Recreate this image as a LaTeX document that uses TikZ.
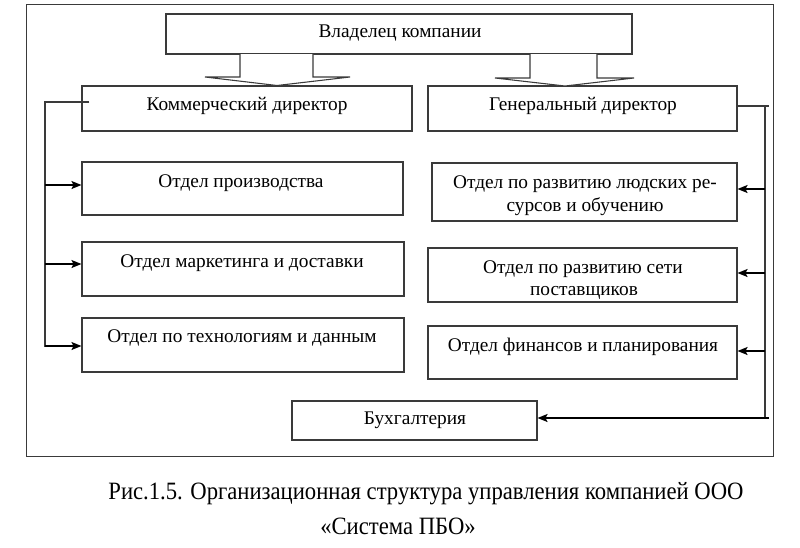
\documentclass[tikz,border=0pt]{standalone}
\usepackage{fontspec}
\setmainfont{Liberation Serif}
\newfontfamily\dfont{Liberation Serif}
\usetikzlibrary{arrows.meta,fit}
\definecolor{linec}{HTML}{3A3A3A}
\tikzset{
  box/.style={draw=linec, line width=0.8pt, inner sep=0pt},
  txt/.style={font=\dfont\fontsize{14.5}{17}\selectfont, inner sep=0pt, anchor=base},
  captxt/.style={font=\dfont\fontsize{17}{20}\selectfont, inner sep=0pt, anchor=base, yscale=1.1},
  bus/.style={draw=linec, line width=0.8pt},
  arr/.style={draw=black, line width=1.2pt, -{Stealth[length=7.5pt,width=6pt,inset=1.5pt]}},
  blk/.style={draw=linec, line width=0.8pt, fill=white, line join=miter},
}
\begin{document}
\begin{tikzpicture}[x=0.75pt,y=-0.75pt]
\useasboundingbox (0,0) rectangle (800,547);
% outer frame
\node[box, fit={(26.5,4.5) (773.5,456.5)}] (frame) {};
% boxes
\node[box, fit={(166,14) (632,54)}] (own) {};
\node[box, fit={(82,86) (412,131)}] (cd) {};
\node[box, fit={(428,86) (737,131)}] (gd) {};
\node[box, fit={(82,162) (403,215)}] (l1) {};
\node[box, fit={(82,242) (404,296)}] (l2) {};
\node[box, fit={(82,318) (404,372)}] (l3) {};
\node[box, fit={(432,163) (737,221)}] (r1) {};
\node[box, fit={(428,248) (737,302)}] (r2) {};
\node[box, fit={(428,326) (737,379)}] (r3) {};
\node[box, fit={(292,401) (537,440)}] (acc) {};
% block arrows
\draw[blk] (240,54) -- (240,77) -- (205,77) -- (277,85.5) -- (350,77) -- (313,77) -- (313,54);
\draw[blk] (530,54) -- (530,78) -- (495,78) -- (565,86) -- (634,78) -- (597,78) -- (597,54);
% texts
\node[txt] (townr) at (400,37) {Владелец компании};
\node[txt] (tcd) at (247,110) {Коммерческий директор};
\node[txt] (tgd) at (583,110) {Генеральный директор};
\node[txt] (tl1) at (241,187) {Отдел производства};
\node[txt] (tl2) at (242,267) {Отдел маркетинга и доставки};
\node[txt] (tl3) at (242,342) {Отдел по технологиям и данным};
\node[txt] (tr1a) at (585,188) {Отдел по развитию людских ре-};
\node[txt] (tr1b) at (585,211) {сурсов и обучению};
\node[txt] (tr2a) at (583,273) {Отдел по развитию сети};
\node[txt] (tr2b) at (584,295) {поставщиков};
\node[txt] (tr3) at (583,351) {Отдел финансов и планирования};
\node[txt] (tacc) at (415,424) {Бухгалтерия};
\node[captxt] (cap1) at (426,499) {Рис.1.5. Организационная структура управления компанией ООО};
\node[captxt] (cap2) at (398,534) {«Система ПБО»};
% left bus
\coordinate (lt) at (45,102);
\coordinate (lb) at (45,347);
\coordinate (la1) at (45,185);
\coordinate (la2) at (45,264);
\coordinate (la3) at (45,346);
\draw[bus] ([xshift=6]cd.west |- lt) -- (lt) -- (lb);
\draw[arr] (la1) -- (la1 -| l1.west);
\draw[arr] (la2) -- (la2 -| l2.west);
\draw[arr] (la3) -- (la3 -| l3.west);
% right bus
\coordinate (rt) at (765,106);
\coordinate (rb) at (765,418);
\coordinate (ra1) at (765,189);
\coordinate (ra2) at (765,273);
\coordinate (ra3) at (765,351);
\draw[bus] (gd.east |- rt) -- ([xshift=3]rt) (rt) -- (rb);
\draw[arr] (ra1) -- (ra1 -| r1.east);
\draw[arr] (ra2) -- (ra2 -| r2.east);
\draw[arr] (ra3) -- (ra3 -| r3.east);
\draw[arr] ([xshift=3]rb) -- (rb -| acc.east);
\end{tikzpicture}
\end{document}
